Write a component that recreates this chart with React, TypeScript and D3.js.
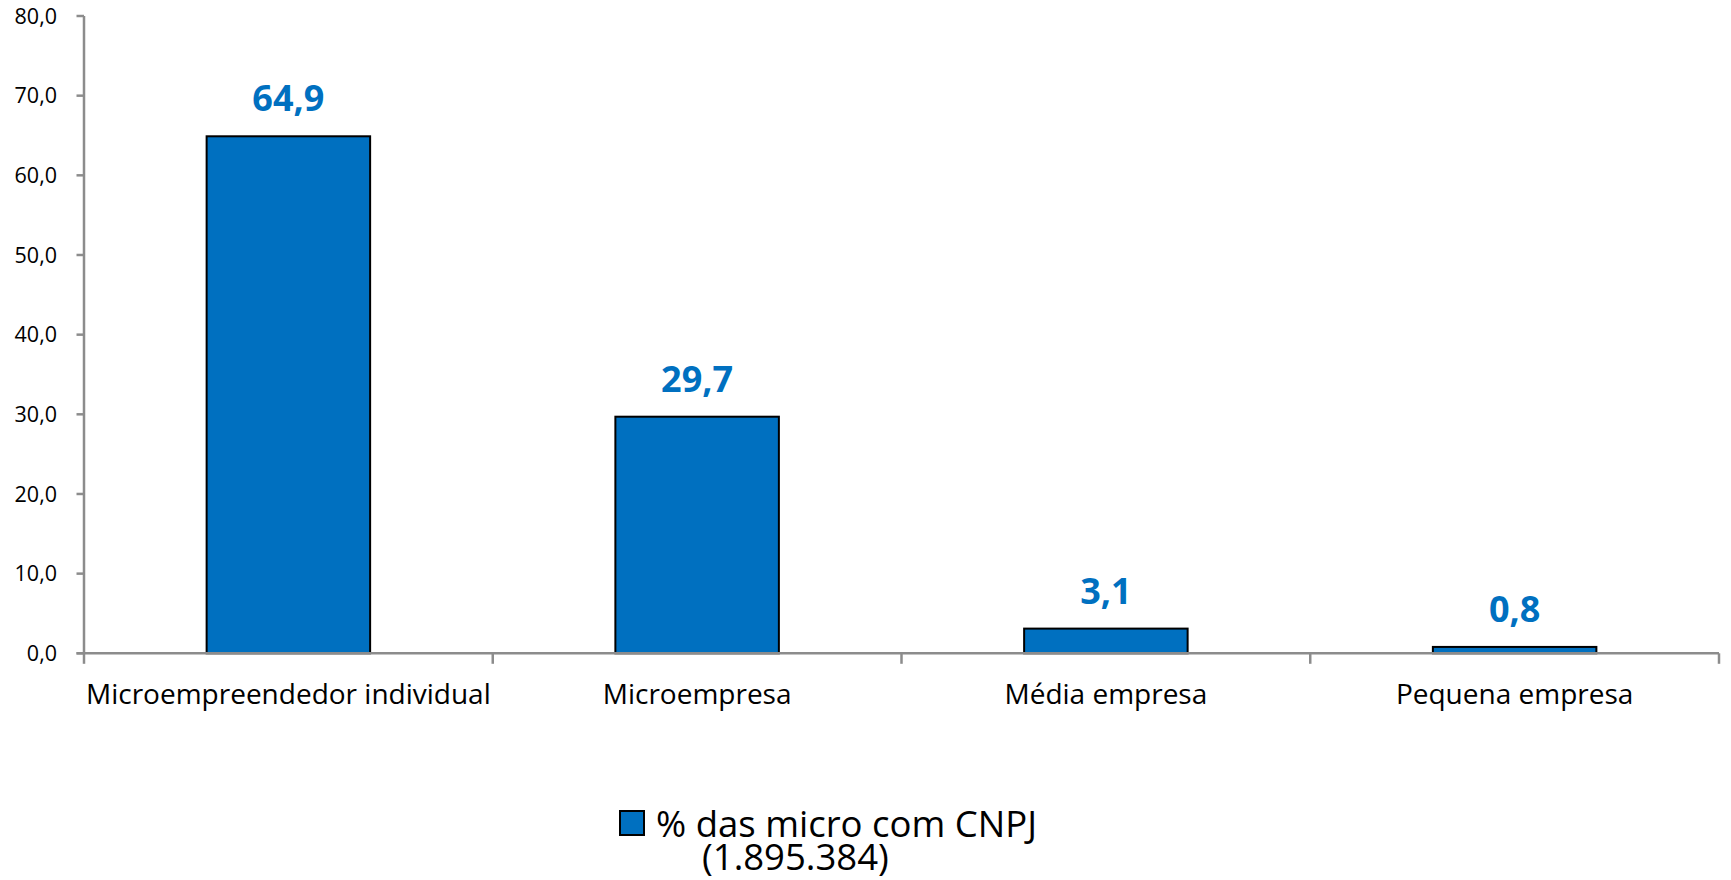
import React from "react";
import * as d3 from "d3";

const categories = [
  "Microempreendedor individual",
  "Microempresa",
  "Média empresa",
  "Pequena empresa",
];
const values = [64.9, 29.7, 3.1, 0.8];
const yTicks = [0, 10, 20, 30, 40, 50, 60, 70, 80];
const legendLines = ["% das micro com CNPJ", "(1.895.384)"];

const W = 1731;
const H = 880;
const FONT = "'Open Sans', 'Liberation Sans', sans-serif";
const BLUE = "#0070C0";
const AXIS = "#8C8C8C";

const fmt = (v: number) => d3.format(".1f")(v).replace(".", ",");

export default function App() {
  const x = d3
    .scaleBand<string>()
    .domain(categories)
    .range([84, 1719])
    .paddingInner(0.6)
    .paddingOuter(0.3);
  const y = d3.scaleLinear().domain([0, 80]).range([653.3, 16]);
  const step = x.step();
  const edges = d3.range(categories.length + 1).map((i) => 84 + i * step);

  return (
    <svg
      width={W}
      height={H}
      style={{ position: "absolute", left: 0, top: 0, display: "block", background: "#fff" }}
      fontFamily={FONT}
    >
      {/* bars */}
      {categories.map((c, i) => (
        <rect
          key={c}
          x={x(c)}
          y={y(values[i])}
          width={x.bandwidth()}
          height={y(0) - y(values[i])}
          fill={BLUE}
          stroke="#000"
          strokeWidth={2}
        />
      ))}
      {/* value labels */}
      {categories.map((c, i) => (
        <text
          key={c + "-lbl"}
          x={(x(c) as number) + x.bandwidth() / 2}
          y={y(values[i]) - 25}
          textAnchor="middle"
          fontSize={36}
          fontWeight="bold"
          fill={BLUE}
        >
          {fmt(values[i])}
        </text>
      ))}
      {/* y axis */}
      <line x1={84} x2={84} y1={y(80)} y2={y(0)} stroke={AXIS} strokeWidth={2.5} />
      {yTicks.map((t) => (
        <g key={t}>
          <line x1={76.5} x2={84} y1={y(t)} y2={y(t)} stroke={AXIS} strokeWidth={2.5} />
          <text
            x={57}
            y={y(t)}
            dy="0.35em"
            textAnchor="end"
            fontSize={21.5}
            fill="#000"
          >
            {fmt(t)}
          </text>
        </g>
      ))}
      {/* x axis */}
      <line x1={76.5} x2={1719} y1={y(0)} y2={y(0)} stroke={AXIS} strokeWidth={2.5} />
      {edges.map((e, i) => (
        <line key={i} x1={e} x2={e} y1={y(0)} y2={y(0) + 10.5} stroke={AXIS} strokeWidth={2.5} />
      ))}
      {categories.map((c) => (
        <text
          key={c + "-cat"}
          x={(x(c) as number) + x.bandwidth() / 2}
          y={704}
          textAnchor="middle"
          fontSize={28}
          fill="#000"
        >
          {c}
        </text>
      ))}
      {/* legend */}
      <rect x={620} y={811} width={24} height={24} fill={BLUE} stroke="#000" strokeWidth={2} />
      <text x={656} y={837} fontSize={36.5} fill="#000">
        {legendLines[0]}
      </text>
      <text x={702} y={870} fontSize={36.5} fill="#000">
        {legendLines[1]}
      </text>
    </svg>
  );
}
